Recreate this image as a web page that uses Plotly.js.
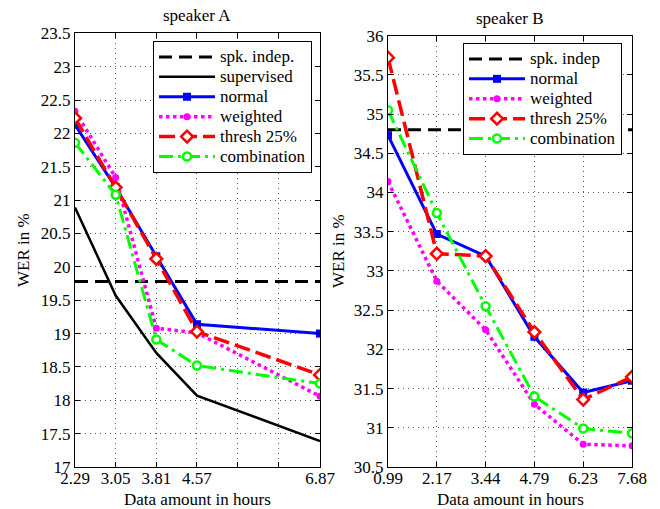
<!DOCTYPE html>
<html>
<head>
<meta charset="utf-8">
<script src="https://cdn.plot.ly/plotly-3.0.1.min.js"></script>
<style>html,body{margin:0;padding:0;background:#fff;}#chart{width:660px;height:509px;}</style>
</head>
<body>
<div id="chart"></div>
<script>
// ---- Speaker A data ----
var hoursA = [2.29, 3.05, 3.81, 4.57, 6.87];
var tickValsA = [2.29, 3.05, 3.81, 4.57, 5.33, 6.09, 6.87];
var tickTextA = ['2.29', '3.05', '3.81', '4.57', '', '', '6.87'];
var spkIndepA = 19.78;
var supervisedA = [20.89, 19.57, 18.71, 18.07, 17.39];
var normalA = [22.13, 21.19, 20.16, 19.14, 19.0];
var weightedA = [22.33, 21.34, 19.08, 19.01, 18.06];
var threshA = [22.23, 21.19, 20.12, 19.03, 18.38];
var combinationA = [21.86, 21.08, 18.91, 18.52, 18.25];

// ---- Speaker B data ----
var hoursB = ['0.99', '2.17', '3.44', '4.79', '6.23', '7.68'];
var spkIndepB = 34.80;
var normalB = [34.73, 33.47, 33.19, 32.16, 31.45, 31.60];
var weightedB = [34.14, 32.87, 32.25, 31.30, 30.79, 30.77];
var threshB = [35.72, 33.22, 33.19, 32.22, 31.36, 31.65];
var combinationB = [35.05, 33.74, 32.55, 31.40, 30.99, 30.93];

var FONT = 'Liberation Serif';
var blue = '#0000ff', magenta = '#ff00ff', red = '#ff0000', green = '#00ff00';

function styles(name) {
  var s = {
    'spk': {line: {color: 'black', width: 3, dash: '13px,7px'}, mode: 'lines'},
    'sup': {line: {color: 'black', width: 2.5}, mode: 'lines'},
    'normal': {line: {color: blue, width: 3}, mode: 'lines+markers',
      marker: {symbol: 'square', size: 8, color: blue}},
    'weighted': {line: {color: magenta, width: 3.5, dash: 'dot'}, mode: 'lines+markers',
      marker: {symbol: 'circle', size: 7, color: magenta}},
    'thresh': {line: {color: red, width: 3.5, dash: '16px,6px'}, mode: 'lines+markers',
      marker: {symbol: 'diamond', size: 9, color: 'white', line: {color: red, width: 2.5}}},
    'comb': {line: {color: green, width: 3, dash: '14px,5px,3px,5px'}, mode: 'lines+markers',
      marker: {symbol: 'circle', size: 8, color: 'white', line: {color: green, width: 2.5}}}
  };
  return s[name];
}

function legName(n) { return '<span style="font-size:17px">' + n + '</span>'; }

function tr(x, y, name, key, xa, ya, leg) {
  var st = styles(key);
  var t = {x: x, y: y, name: legName(name), mode: st.mode, line: st.line, xaxis: xa, yaxis: ya, legend: leg};
  if (st.marker) t.marker = st.marker;
  return t;
}

var data = [
  tr([hoursA[0], hoursA[hoursA.length - 1]], [spkIndepA, spkIndepA], 'spk. indep.', 'spk', 'x', 'y', 'legend'),
  tr(hoursA, supervisedA, 'supervised', 'sup', 'x', 'y', 'legend'),
  tr(hoursA, normalA, 'normal', 'normal', 'x', 'y', 'legend'),
  tr(hoursA, weightedA, 'weighted', 'weighted', 'x', 'y', 'legend'),
  tr(hoursA, threshA, 'thresh 25%', 'thresh', 'x', 'y', 'legend'),
  tr(hoursA, combinationA, 'combination', 'comb', 'x', 'y', 'legend'),
  tr([hoursB[0], hoursB[hoursB.length - 1]], [spkIndepB, spkIndepB], 'spk. indep', 'spk', 'x2', 'y2', 'legend2'),
  tr(hoursB, normalB, 'normal', 'normal', 'x2', 'y2', 'legend2'),
  tr(hoursB, weightedB, 'weighted', 'weighted', 'x2', 'y2', 'legend2'),
  tr(hoursB, threshB, 'thresh 25%', 'thresh', 'x2', 'y2', 'legend2'),
  tr(hoursB, combinationB, 'combination', 'comb', 'x2', 'y2', 'legend2')
];

function ax(extra) {
  var base = {
    showline: true, linecolor: 'black', linewidth: 1, mirror: 'ticks',
    ticks: 'inside', ticklen: 5, tickcolor: 'black', tickwidth: 1,
    showgrid: true, gridcolor: '#555', griddash: '1px,4px', gridwidth: 1,
    zeroline: false, automargin: false,
    tickfont: {family: FONT, size: 17, color: 'black'}
  };
  return Object.assign(base, extra);
}

function legendAt(x, y) {
  return {x: x, y: y, xanchor: 'left', yanchor: 'top', bordercolor: 'black', borderwidth: 1, bgcolor: 'white',
    font: {family: FONT, size: 13, color: 'black'}, tracegroupgap: 0, itemwidth: 56};
}

function label(text, x, y, rot) {
  return {text: text, x: x / 660, y: 1 - y / 509, xref: 'paper', yref: 'paper', showarrow: false,
    xanchor: 'center', yanchor: 'middle', textangle: rot || 0, borderpad: 0,
    font: {family: FONT, size: 17, color: 'black'}};
}

var layout = {
  width: 660, height: 509,
  margin: {l: 0, r: 0, t: 0, b: 0},
  paper_bgcolor: 'white', plot_bgcolor: 'white',
  font: {family: FONT, size: 17, color: 'black'},
  xaxis: ax({domain: [75/660, 320/660], anchor: 'y', range: [2.29, 6.87], ticklabelstandoff: -4,
    tickmode: 'array', tickvals: tickValsA, ticktext: tickTextA}),
  yaxis: ax({domain: [1 - 467/509, 1 - 33.3/509], anchor: 'x', range: [17, 23.5], dtick: 0.5, tick0: 17}),
  xaxis2: ax({domain: [388/660, 632/660], anchor: 'y2', type: 'category', ticklabelstandoff: -4,
    categoryorder: 'array', categoryarray: hoursB, range: [0, 5]}),
  yaxis2: ax({domain: [1 - 467/509, 1 - 35.7/509], anchor: 'x2', range: [30.5, 36], dtick: 0.5, tick0: 30.5}),
  legend: legendAt(153/660, 1 - 41/509),
  legend2: legendAt(463/660, 1 - 43/509),
  showlegend: true,
  annotations: [
    label('speaker A', 197, 16),
    label('speaker B', 510, 19),
    label('Data amount in hours', 197, 499.5),
    label('Data amount in hours', 510, 499.5),
    label('WER in %', 23, 250, -90),
    label('WER in %', 338, 251, -90)
  ]
};

Plotly.newPlot('chart', data, layout, {displayModeBar: false, staticPlot: true});
</script>
</body>
</html>
